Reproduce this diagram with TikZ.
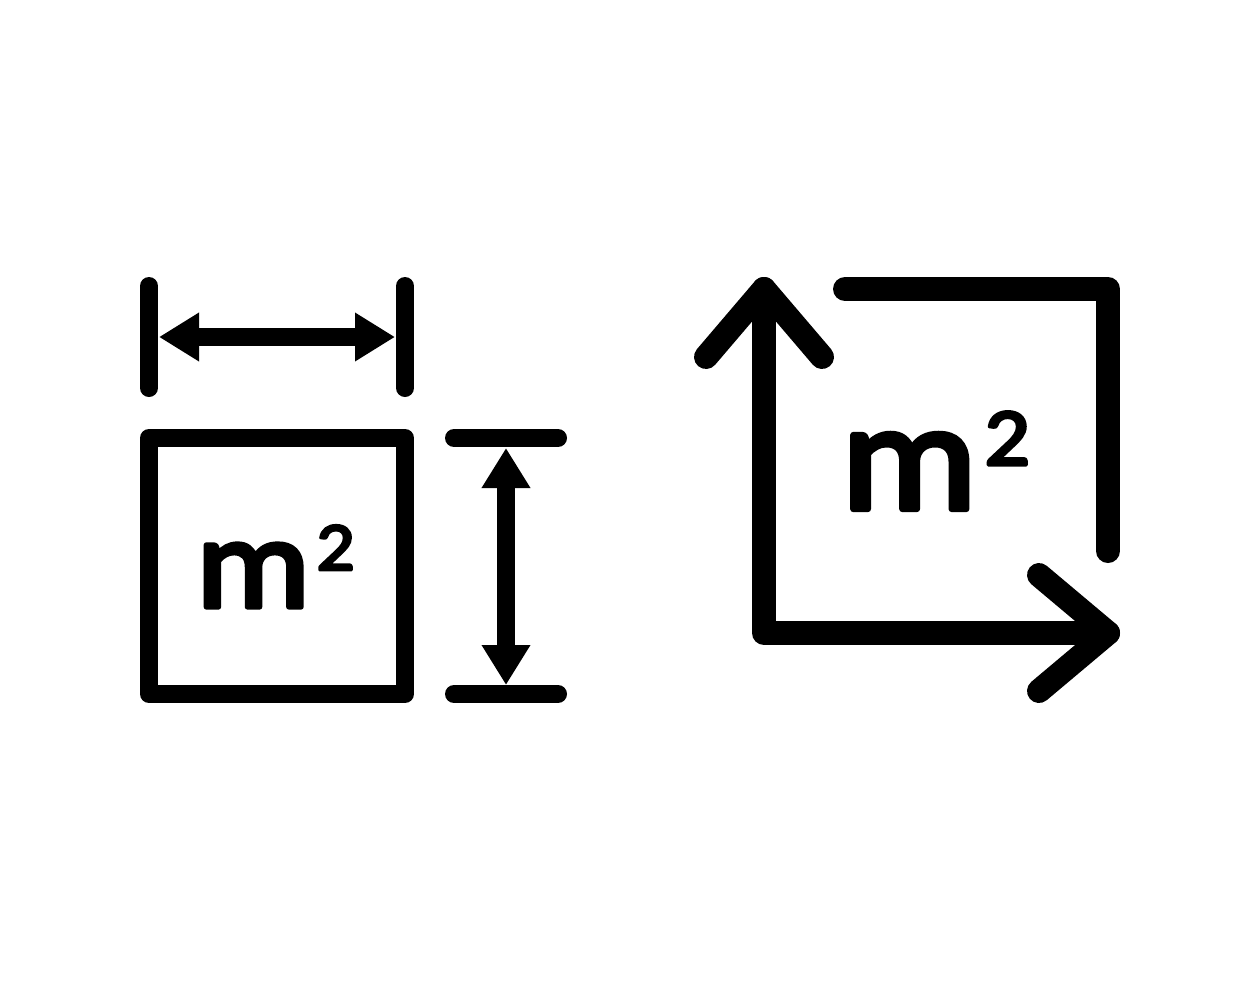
\documentclass[tikz,border=0pt]{standalone}
\usepackage{fontspec}
\setmainfont{Carlito}
\newfontfamily\unitfont[FakeBold=4,FakeStretch=1.1]{Carlito}
\usetikzlibrary{arrows.meta}
\tikzset{
  thinbar/.style={line width=18pt, line cap=round, line join=round},
  thickbar/.style={line width=24pt, line cap=round, line join=round},
  dimarrow/.style={line width=18pt, {Triangle[length=40pt,width=46pt]}-{Triangle[length=40pt,width=46pt]}},
  unitlabel/.style={anchor=base west, inner sep=0pt, outer sep=0pt}
}
\newcommand{\unitsq}[3]{\pgfsetroundcap\pgfsetroundjoin\fontsize{#1}{#1}\unitfont m\hspace{#3}\raisebox{#2}{\fontsize{0.53\dimexpr#1\relax}{#1}\unitfont 2}}
\begin{document}
\begin{tikzpicture}[x=1pt, y=-1pt]
\useasboundingbox (0,0) rectangle (1260,980);
% left icon
\node[draw, thinbar, minimum size=256pt, inner sep=0pt, outer sep=0pt] (square) at (277,566) {};
\coordinate (TL) at (149,286);
\coordinate (BL) at (149,388);
\coordinate (TR) at (405,286);
\coordinate (BR) at (405,388);
\coordinate (WL) at (159,337);
\coordinate (WR) at (395,337);
\coordinate (HTL) at (454,438);
\coordinate (HTR) at (558,438);
\coordinate (HBL) at (454,694);
\coordinate (HBR) at (558,694);
\coordinate (HT) at (506,448);
\coordinate (HB) at (506,685);
\draw[thinbar] (TL) -- (BL);
\draw[thinbar] (TR) -- (BR);
\draw[thinbar] (HTL) -- (HTR);
\draw[thinbar] (HBL) -- (HBR);
\draw[dimarrow] (WL) -- (WR);
\draw[dimarrow] (HT) -- (HB);
\node[unitlabel] (areaA) at (196,607) {\unitsq{130pt}{37pt}{6pt}};
% right icon
\coordinate (apexN) at (764,289);
\coordinate (apexE) at (1108,633);
\coordinate (origin) at (764,633);
\coordinate (NL) at (706,357);
\coordinate (NR) at (822,357);
\coordinate (EU) at (1039,575);
\coordinate (ED) at (1039,691);
\coordinate (CS) at (845,289);
\coordinate (CC) at (1108,289);
\coordinate (CE) at (1108,551);
\draw[thickbar] (apexN) -- (origin) -- (apexE);
\draw[thickbar] (NL) -- (apexN) -- (NR);
\draw[thickbar] (EU) -- (apexE) -- (ED);
\draw[thickbar] (CS) -- (CC) -- (CE);
\node[unitlabel] (areaB) at (841,509) {\unitsq{155pt}{44pt}{7pt}};
\end{tikzpicture}
\end{document}
